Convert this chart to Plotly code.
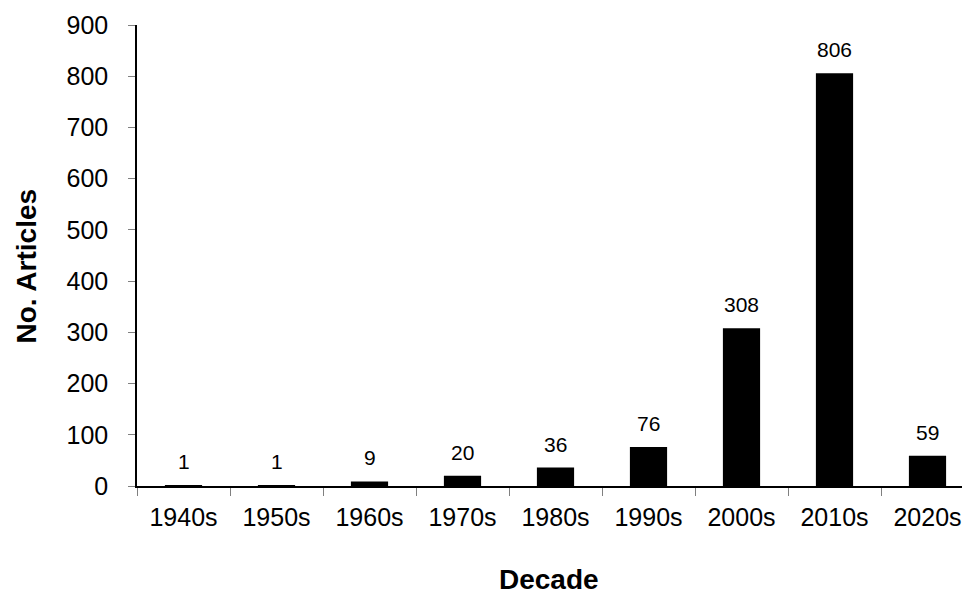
import plotly.graph_objects as go

decades = ["1940s", "1950s", "1960s", "1970s", "1980s", "1990s", "2000s", "2010s", "2020s"]
articles = [1, 1, 9, 20, 36, 76, 308, 806, 59]
y_ticks = [0, 100, 200, 300, 400, 500, 600, 700, 800, 900]

FONT = "Liberation Sans, Arial, sans-serif"

fig = go.Figure()
fig.add_trace(go.Bar(
    x=decades, y=articles, width=0.4,
    marker=dict(color="black", line=dict(width=0)),
    hoverinfo="x+y",
))

for d, v in zip(decades, articles):
    fig.add_annotation(x=d, y=v, text=str(v), showarrow=False,
                       yanchor="bottom", yshift=10,
                       font=dict(family=FONT, size=21, color="black"))

# axis titles
fig.add_annotation(xref="paper", yref="paper", x=0, y=0, xanchor="center", yanchor="top",
                   xshift=412, yshift=-76, showarrow=False,
                   text="<b>Decade</b>", font=dict(family=FONT, size=28, color="black"))
fig.add_annotation(xref="paper", yref="paper", x=0, y=0.5, xanchor="center", yanchor="middle",
                   xshift=-111, yshift=-11, showarrow=False, textangle=-90,
                   text="<b>No. Articles</b>", font=dict(family=FONT, size=28, color="black"))

fig.update_layout(
    width=970, height=590,
    margin=dict(l=129, r=4, t=17, b=112),
    paper_bgcolor="white", plot_bgcolor="white",
    showlegend=False,
    font=dict(family=FONT, color="black"),
)
fig.update_xaxes(
    type="category", range=[-0.5, 8.5],
    showline=True, linecolor="black", linewidth=1.5,
    ticks="outside", tickson="boundaries", ticklen=8, tickcolor="#808080", tickwidth=1,
    tickfont=dict(family=FONT, size=25, color="black"),
    ticklabelstandoff=8,
    showgrid=False, zeroline=False,
)
fig.update_yaxes(
    range=[0, 900], tickvals=y_ticks,
    showline=True, linecolor="black", linewidth=1.5,
    ticks="outside", ticklen=7, tickcolor="#808080", tickwidth=1,
    tickfont=dict(family=FONT, size=25, color="black"),
    ticklabelstandoff=15,
    showgrid=False, zeroline=False,
)

fig.write_html("out.html")
